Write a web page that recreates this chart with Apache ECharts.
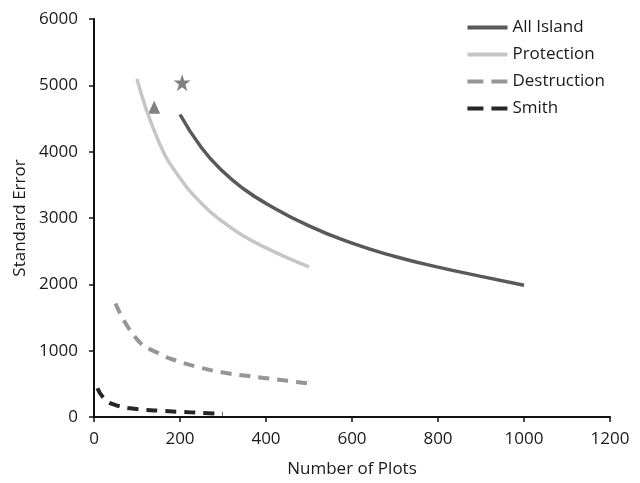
<!DOCTYPE html>
<html>
<head>
<meta charset="utf-8">
<script src="https://cdn.jsdelivr.net/npm/echarts@6/dist/echarts.min.js"></script>
<style>
	html, body { margin: 0; padding: 0; background: #fff; }
	#chart { width: 640px; height: 483px; }
</style>
</head>
<body>
<div id="chart"></div>
<script>
// data
var seriesNames = ['All Island', 'Protection', 'Destruction', 'Smith'];

var allIslandX = [200, 250, 300, 350, 400, 500, 600, 700, 800, 900, 1000];
var allIslandY = [4560, 4060, 3700, 3430, 3220, 2880, 2620, 2420, 2260, 2120, 1985];

var protectionX = [100, 150, 200, 250, 300, 350, 400, 450, 500];
var protectionY = [5095, 4160, 3600, 3220, 2940, 2720, 2550, 2400, 2265];

var destructionX = [50, 100, 150, 200, 250, 300, 350, 400, 450, 500];
var destructionY = [1710, 1170, 960, 830, 740, 670, 625, 585, 545, 505];

var smithX = [8, 25, 50, 100, 150, 200, 250, 300];
var smithY = [435, 270, 180, 120, 95, 78, 62, 48];

var starPoint = [205, 5040];
var trianglePoint = [140, 4670];

var xTicks = [0, 200, 400, 600, 800, 1000, 1200];
var yTicks = [0, 1000, 2000, 3000, 4000, 5000, 6000];

function pairs(xs, ys) {
	var out = [];
	for (var i = 0; i < xs.length; i++) {
		out.push([xs[i], ys[i]]);
	}
	return out;
}

function plainNumber(v) {
	return String(v);
}

// dashed series get a two-dash legend icon like the original
var legendItems = seriesNames.map(function (name, i) {
	if (i >= 2) {
		return { name: name, lineStyle: { width: 4, type: [16, 8] } };
	}
	return { name: name, lineStyle: { width: 4 } };
});

var font = '"Open Sans", "Noto Sans", sans-serif';
var starPath = 'path://M50,0 L61.8,35.4 L100,35.4 L69.1,57.3 L80.9,95.1 L50,73.2 L19.1,95.1 L30.9,57.3 L0,35.4 L38.2,35.4 Z';

var myChart = echarts.init(document.getElementById('chart'));
var option = {
	animation: false,
	backgroundColor: '#ffffff',
	grid: {
		left: 94,
		right: 30,
		top: 19,
		bottom: 66
	},
	legend: {
		data: legendItems,
		orient: 'vertical',
		right: 30,
		top: 14,
		itemWidth: 40,
		itemHeight: 14,
		itemGap: 10,
		itemStyle: { opacity: 0 },
		textStyle: {
			fontFamily: font,
			fontSize: 17,
			color: '#1a1a1a'
		}
	},
	xAxis: {
		type: 'value',
		min: xTicks[0],
		max: xTicks[xTicks.length - 1],
		interval: 200,
		name: 'Number of Plots',
		nameLocation: 'middle',
		nameGap: 44,
		nameTextStyle: { fontFamily: font, fontSize: 17, color: '#1a1a1a' },
		axisLine: { lineStyle: { color: '#111', width: 2 } },
		axisTick: { show: true, length: 5, lineStyle: { color: '#111', width: 1.5 } },
		axisLabel: { fontFamily: font, fontSize: 17, color: '#1a1a1a', margin: 14, formatter: plainNumber },
		splitLine: { show: false }
	},
	yAxis: {
		type: 'value',
		min: yTicks[0],
		max: yTicks[yTicks.length - 1],
		interval: 1000,
		name: 'Standard Error',
		nameLocation: 'middle',
		nameGap: 62,
		nameTextStyle: { fontFamily: font, fontSize: 17, color: '#1a1a1a' },
		axisLine: { show: true, lineStyle: { color: '#111', width: 2 } },
		axisTick: { show: true, length: 5, lineStyle: { color: '#111', width: 1.5 } },
		axisLabel: { fontFamily: font, fontSize: 17, color: '#1a1a1a', margin: 16, formatter: plainNumber },
		splitLine: { show: false }
	},
	series: [
		{
			name: 'All Island',
			type: 'line',
			smooth: 0.5,
			symbol: 'none',
			color: '#595959',
			lineStyle: { color: '#595959', width: 3.5 },
			data: pairs(allIslandX, allIslandY)
		},
		{
			name: 'Protection',
			type: 'line',
			smooth: 0.5,
			symbol: 'none',
			color: '#c6c6c6',
			lineStyle: { color: '#c6c6c6', width: 3.5 },
			data: pairs(protectionX, protectionY)
		},
		{
			name: 'Destruction',
			type: 'line',
			smooth: 0.5,
			symbol: 'none',
			color: '#969696',
			lineStyle: { color: '#969696', width: 4, type: [11, 8] },
			data: pairs(destructionX, destructionY)
		},
		{
			name: 'Smith',
			type: 'line',
			smooth: 0.5,
			symbol: 'none',
			color: '#262626',
			lineStyle: { color: '#262626', width: 4, type: [11, 8] },
			data: pairs(smithX, smithY)
		},
		{
			name: 'star',
			type: 'scatter',
			symbol: starPath,
			symbolSize: 17,
			itemStyle: { color: '#616161' },
			data: [starPoint]
		},
		{
			name: 'triangle',
			type: 'scatter',
			symbol: 'triangle',
			symbolSize: [12, 13],
			itemStyle: { color: '#616161' },
			data: [trianglePoint]
		}
	]
};
myChart.setOption(option);
</script>
</body>
</html>
